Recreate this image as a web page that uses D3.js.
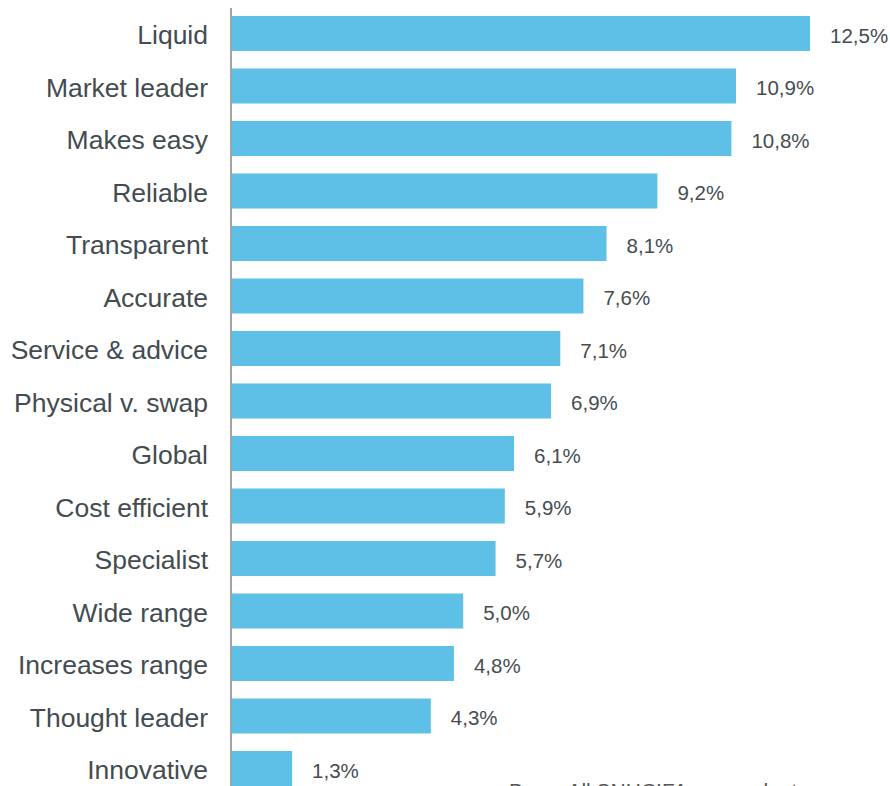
<!DOCTYPE html>
<html>
<head>
<meta charset="utf-8">
<script src="https://cdn.jsdelivr.net/npm/d3@7"></script>
<style>
  html, body { margin: 0; padding: 0; background: #fff; }
  svg { display: block; font-family: "Liberation Sans", Arial, sans-serif; }
</style>
</head>
<body>
<svg id="chart" width="890" height="786"></svg>
<script>
// Attribute shares (%), top to bottom
const categories = [
  "Liquid", "Market leader", "Makes easy", "Reliable", "Transparent",
  "Accurate", "Service & advice", "Physical v. swap", "Global",
  "Cost efficient", "Specialist", "Wide range", "Increases range",
  "Thought leader", "Innovative"
];
const values = [12.5, 10.9, 10.8, 9.2, 8.1, 7.6, 7.1, 6.9, 6.1, 5.9, 5.7, 5.0, 4.8, 4.3, 1.3];
const valueLabels = ["12,5%", "10,9%", "10,8%", "9,2%", "8,1%", "7,6%", "7,1%", "6,9%", "6,1%", "5,9%", "5,7%", "5,0%", "4,8%", "4,3%", "1,3%"];
const footnote = "Base: All SNHCIFA respondents";

const svg = d3.select("#chart");
const x0 = 232;

const x = d3.scaleLinear().domain([0, 12.5]).range([x0, 810]);
const y = d3.scaleBand()
  .domain(categories)
  .range([7.25, 7.25 + 52.5 * categories.length])
  .paddingInner(0.333)
  .paddingOuter(0.1665);

const rows = categories.map((c, i) => ({ c, v: values[i], lab: valueLabels[i] }));

// Bars
svg.append("g").selectAll("rect")
  .data(rows)
  .join("rect")
  .attr("x", x0)
  .attr("y", d => y(d.c))
  .attr("width", d => x(d.v) - x0)
  .attr("height", y.bandwidth())
  .attr("fill", "#5ec0e6");

// Category labels along the vertical axis
const axis = d3.axisLeft(y).tickSize(0).tickPadding(23);
const gAxis = svg.append("g")
  .attr("transform", `translate(${x0 - 1},0)`)
  .call(axis);
gAxis.select(".domain").remove();
gAxis.selectAll("text")
  .attr("font-size", 26.5)
  .attr("font-family", "'Liberation Sans', Arial, sans-serif")
  .attr("fill", "#434c50")
  .attr("dy", "0.4em");

svg.append("line")
  .attr("x1", x0 - 1).attr("x2", x0 - 1)
  .attr("y1", 8).attr("y2", 786)
  .attr("stroke", "#a3a3a3")
  .attr("stroke-width", 2);

// Value labels
svg.append("g").selectAll("text")
  .data(rows)
  .join("text")
  .attr("x", d => x(d.v) + 20)
  .attr("y", d => y(d.c) + y.bandwidth() / 2)
  .attr("dy", "0.45em")
  .attr("font-size", 20.5)
  .attr("fill", "#454d51")
  .text(d => d.lab);

// Footnote
svg.append("text")
  .attr("x", 509)
  .attr("y", 798)
  .attr("font-size", 21)
  .attr("fill", "#555")
  .text(footnote);
</script>
</body>
</html>
